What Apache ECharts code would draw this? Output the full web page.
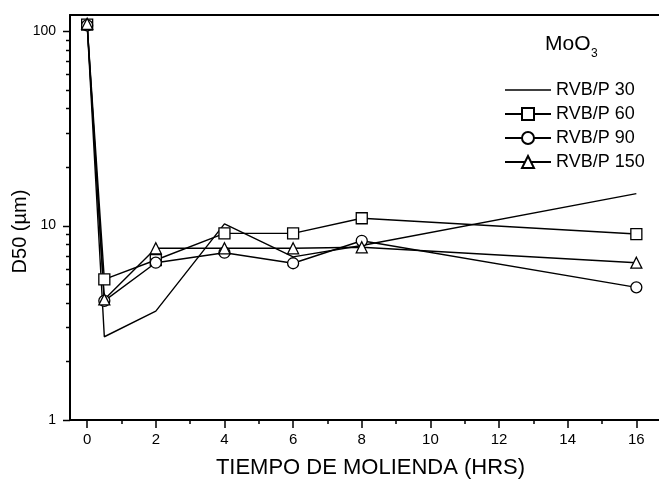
<!DOCTYPE html>
<html>
<head>
<meta charset="utf-8">
<script src="https://cdn.jsdelivr.net/npm/echarts@6/dist/echarts.min.js"></script>
<style>
  html, body { margin: 0; padding: 0; background: #fff; }
  #chart { width: 659px; height: 481px; }
</style>
</head>
<body>
<div id="chart"></div>
<script>
// milling time (h) and D50 values (µm)
const hours = [0, 0.5, 2, 4, 6, 8, 16];
const rvb30 = [108, 2.68, 3.63, 10.2, 6.9, 7.9, 14.6];
const rvb60 = [108, 5.29, 6.65, 9.12, 9.12, 10.9, 9.04];
const rvb90 = [107, 4.1, 6.44, 7.25, 6.4, 8.35, 4.81];
const rvb150 = [109, 4.17, 7.64, 7.64, 7.64, 7.73, 6.44];

const xMajorTicks = [0, 2, 4, 6, 8, 10, 12, 14, 16];
const xMinorTicks = [1, 3, 5, 7, 9, 11, 13, 15];
const yLabels = [1, 10, 100];
const yMinorTicks = [2, 3, 4, 5, 6, 7, 8, 9, 20, 30, 40, 50, 60, 70, 80, 90];

const X_MIN = -0.5;
const X_MAX = 16.66;
const FONT = "Liberation Sans, Arial, sans-serif";

const chart = echarts.init(document.getElementById("chart"));

function pairs(ys) {
	return hours.map((h, i) => [h, ys[i]]);
}

function markerSeries(name, ys, symbol) {
	return {
		name: name,
		type: "line",
		data: pairs(ys),
		symbol: symbol,
		symbolSize: 11,
		showAllSymbol: true,
		lineStyle: { color: "#000", width: 1.4 },
		itemStyle: { color: "#fff", borderColor: "#000", borderWidth: 1.3 },
		emphasis: { disabled: true }
	};
}

const yTicks = yLabels.map(v => ({ value: [X_MIN, v], major: true }))
	.concat(yMinorTicks.map(v => ({ value: [X_MIN, v], major: false })));

chart.setOption({
	animation: false,
	textStyle: { fontFamily: FONT, color: "#000" },
	title: [
		{
			text: "MoO",
			left: 545,
			top: 34,
			padding: 0,
			textStyle: { fontFamily: FONT, fontSize: 21, fontWeight: "normal", color: "#000" }
		},
		{
			text: "3",
			left: 591,
			top: 48,
			padding: 0,
			textStyle: { fontFamily: FONT, fontSize: 12, fontWeight: "normal", color: "#000" }
		}
	],
	legend: {
		orient: "vertical",
		left: 504,
		top: 81,
		padding: 0,
		itemWidth: 46,
		itemHeight: 15,
		itemGap: 6,
		textStyle: { fontFamily: FONT, fontSize: 18, color: "#000" },
		data: [
			{ name: "RVB/P 30", icon: "path://M0 0H46V1.5H0Z" },
			"RVB/P 60",
			"RVB/P 90",
			"RVB/P 150"
		]
	},
	grid: {
		left: 70,
		right: 0,
		top: 15,
		bottom: 61,
		containLabel: false,
		outerBoundsMode: "none"
	},
	xAxis: [
		{
			type: "value",
			min: X_MIN,
			max: X_MAX,
			position: "bottom",
			name: "TIEMPO DE MOLIENDA (HRS)",
			nameLocation: "middle",
			nameGap: 37,
			nameMoveOverlap: false,
			nameTextStyle: { fontFamily: FONT, fontSize: 22, color: "#000", padding: [0, 0, 0, 12] },
			axisLine: { onZero: false, lineStyle: { color: "#000", width: 2 } },
			axisTick: {
				customValues: xMajorTicks,
				length: 8,
				lineStyle: { color: "#000", width: 1.5 }
			},
			axisLabel: {
				customValues: xMajorTicks,
				fontSize: 15,
				margin: 12,
				color: "#000"
			},
			splitLine: { show: false }
		},
		{
			type: "value",
			min: X_MIN,
			max: X_MAX,
			position: "bottom",
			axisLine: { show: false, onZero: false },
			axisTick: {
				customValues: xMinorTicks,
				length: 4,
				lineStyle: { color: "#000", width: 1.5 }
			},
			axisLabel: { show: false },
			splitLine: { show: false }
		},
		{
			type: "value",
			min: X_MIN,
			max: X_MAX,
			position: "top",
			axisLine: { onZero: false, lineStyle: { color: "#000", width: 2 } },
			axisTick: { show: false },
			axisLabel: { show: false },
			splitLine: { show: false }
		}
	],
	yAxis: {
		type: "log",
		logBase: 10,
		min: 1,
		max: 121,
		name: "D50 (µm)",
		nameLocation: "middle",
		nameGap: 40,
		nameMoveOverlap: false,
		nameRotate: 90,
		nameTextStyle: { fontFamily: FONT, fontSize: 20, color: "#000", padding: [0, 28, 0, 0] },
		axisLine: { onZero: false, lineStyle: { color: "#000", width: 2 } },
		axisTick: { show: false },
		axisLabel: {
			fontSize: 14,
			margin: 14,
			color: "#000",
			formatter: v => (yLabels.indexOf(v) >= 0 ? String(v) : "")
		},
		splitLine: { show: false }
	},
	series: [
		{
			name: "RVB/P 30",
			type: "line",
			data: pairs(rvb30),
			symbol: "none",
			lineStyle: { color: "#000", width: 1.4 },
			itemStyle: { color: "#000" },
			emphasis: { disabled: true }
		},
		markerSeries("RVB/P 60", rvb60, "rect"),
		markerSeries("RVB/P 90", rvb90, "circle"),
		markerSeries("RVB/P 150", rvb150, "triangle"),
		{
			// y axis ticks (major + minor decades)
			type: "custom",
			silent: true,
			clip: false,
			data: yTicks,
			renderItem: (params, api) => {
				const p = api.coord([X_MIN, api.value(1)]);
				const len = yTicks[params.dataIndex].major ? 7 : 4;
				const y = Math.round(p[1]) + 0.5;
				return {
					type: "line",
					shape: { x1: p[0] - len, y1: y, x2: p[0], y2: y },
					style: { stroke: "#000", lineWidth: 1.5 }
				};
			},
			z: 5
		}
	]
});
</script>
</body>
</html>
